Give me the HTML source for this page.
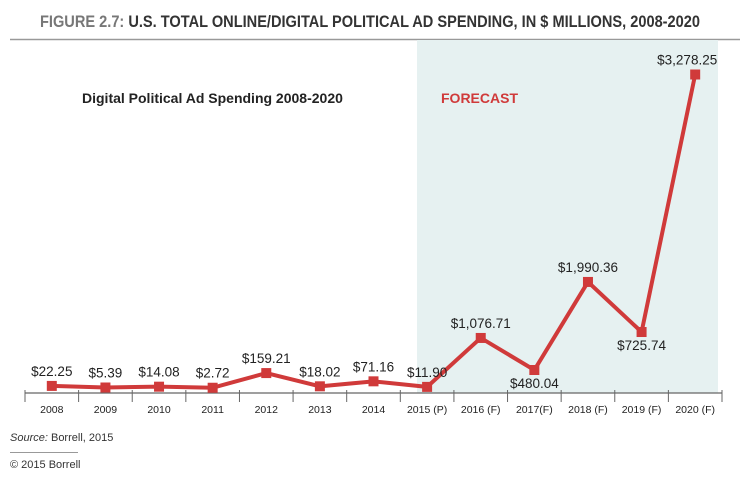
<!DOCTYPE html>
<html><head><meta charset="utf-8"><style>
body{margin:0;background:#fff;width:740px;height:472px;overflow:hidden;font-family:"Liberation Sans",sans-serif}
</style></head><body>
<svg width="740" height="472" xmlns="http://www.w3.org/2000/svg">
<text x="370" y="27" text-anchor="middle" font-size="17" font-weight="bold" fill="#444" textLength="660" lengthAdjust="spacingAndGlyphs"><tspan fill="#777">FIGURE 2.7: </tspan><tspan fill="#333">U.S. TOTAL ONLINE/DIGITAL POLITICAL AD SPENDING, IN $ MILLIONS, 2008-2020</tspan></text>
<line x1="10" y1="39.5" x2="740" y2="39.5" stroke="#999" stroke-width="1.5"/>
<rect x="417" y="40" width="301" height="353" fill="#e6f1f1"/>
<text x="82" y="103" font-size="14" font-weight="bold" fill="#222">Digital Political Ad Spending 2008-2020</text>
<text x="441" y="103" font-size="14" font-weight="bold" fill="#d03a3a">FORECAST</text>
<g id="plot"></g>
<text x="10" y="441" font-size="11" fill="#333"><tspan font-style="italic">Source:</tspan> Borrell, 2015</text>
<line x1="10" y1="452.5" x2="78" y2="452.5" stroke="#999"/>
<text x="10" y="468" font-size="11" fill="#333">© 2015 Borrell</text>
</svg>
<script>
const categories=["2008","2009","2010","2011","2012","2013","2014","2015 (P)","2016 (F)","2017(F)","2018 (F)","2019 (F)","2020 (F)"];
const values=[22.25,5.39,14.08,2.72,159.21,18.02,71.16,11.90,1076.71,480.04,1990.36,725.74,3278.25];
const valueLabels=["$22.25","$5.39","$14.08","$2.72","$159.21","$18.02","$71.16","$11.90","$1,076.71","$480.04","$1,990.36","$725.74","$3,278.25"];
const labelBelow=[false,false,false,false,false,false,false,false,false,true,false,true,false];
const ns="http://www.w3.org/2000/svg";
const g=document.getElementById('plot');
const x0=25,x1=722,axisY=393,baseY=388;
const step=(x1-x0)/categories.length;
function xScale(i){return x0+step*(i+0.5);}
const kv=[0,160,480,725,1076,1990,3300],kp=[0,15,18,56,50,106,317];
function yScale(v){for(let k=1;k<kv.length;k++){if(v<=kv[k]||k==kv.length-1){const t=(v-kv[k-1])/(kv[k]-kv[k-1]);return baseY-(kp[k-1]+t*(kp[k]-kp[k-1]));}}}
function mk(tag,a){const e=document.createElementNS(ns,tag);for(const k in a)e.setAttribute(k,a[k]);g.appendChild(e);return e;}
const ax=mk('line',{x1:x0,y1:axisY,x2:x1,y2:axisY,stroke:'#666','stroke-width':1.2});


for(let i=0;i<=categories.length;i++){const t=mk('line',{x1:x0+step*i,y1:axisY-3,x2:x0+step*i,y2:axisY+9,stroke:'#666'});

}
categories.forEach((c,i)=>{const t=mk('text',{x:xScale(i),y:axisY+20,'text-anchor':'middle','font-size':10.5,fill:'#222'});t.textContent=c;

});
const pts=values.map((v,i)=>xScale(i)+','+yScale(v)).join(' ');
const ln=mk('polyline',{points:pts,fill:'none',stroke:'#d03a3a','stroke-width':4,'stroke-linejoin':'miter'});


values.forEach((v,i)=>{const x=xScale(i),y=yScale(v);
const m=mk('rect',{x:x-5,y:y-5,width:10,height:10,fill:'#d03a3a'});


const t=mk('text',{x:i==12?x-8:x,y:labelBelow[i]?y+18:y-10,'text-anchor':'middle','font-size':13.5,fill:'#222'});t.textContent=valueLabels[i];

});
</script>
</body></html>
